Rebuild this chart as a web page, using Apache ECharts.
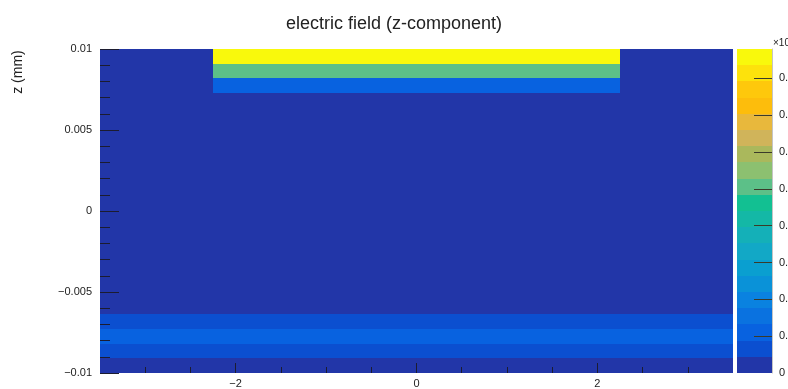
<!DOCTYPE html>
<html>
<head>
<meta charset="utf-8">
<script src="https://cdn.jsdelivr.net/npm/echarts@6/dist/echarts.min.js"></script>
<style>
  html, body { margin: 0; padding: 0; background: #ffffff; }
  #chart { width: 788px; height: 389px; }
</style>
</head>
<body>
<div id="chart"></div>
<script>
// Column boundaries along x (mm): outer bulk | electrode strip | outer bulk
const xEdges = [-3.5, -2.25, 2.25, 3.5];
// z extent (mm) and number of z bins
const zRange = [-0.01, 0.01];
const zBinCount = 22;
// Field z-component per z bin, listed from bottom bin to top bin
const fieldOuter = [0.01, 0.06, 0.11, 0.06, 0.01, 0.01, 0.01, 0.01, 0.01, 0.01, 0.01,
                    0.01, 0.01, 0.01, 0.01, 0.01, 0.01, 0.01, 0.01, 0.01, 0.01, 0.01];
const fieldInner = [0.01, 0.06, 0.11, 0.06, 0.01, 0.01, 0.01, 0.01, 0.01, 0.01, 0.01,
                    0.01, 0.01, 0.01, 0.01, 0.01, 0.01, 0.01, 0.01, 0.12, 0.50, 0.87];
// Colour scale: range, contour colours (low to high) and labelled values
const scaleMax = 0.88;
const levelColors = ['#2236a8', '#0b4fd0', '#0862e0', '#0a72e0', '#0a82e0', '#0a92d8', '#0a9fd0',
                     '#12a8c6', '#14b0b8', '#14b8a6', '#12c092', '#5cc088', '#8cc070', '#aab85c',
                     '#d0b45a', '#e8b83c', '#fdbd0c', '#fec80c', '#fde20c', '#f9f90c'];
const scaleTicks = [0, 0.1, 0.2, 0.3, 0.4, 0.5, 0.6, 0.7, 0.8];
// Axis ticks
const xMajorTicks = [-2, 0, 2];
const xMinorTicks = [-3, -2.5, -1.5, -1, -0.5, 0.5, 1, 1.5, 2.5, 3];

const FONT = '"Liberation Sans", Arial, Helvetica, sans-serif';
const TEXT = '#222222';
const TICK = '#1c1c30';

function levelOf(v) {
  const n = levelColors.length;
  return Math.max(0, Math.min(n - 1, Math.floor(v / scaleMax * n)));
}

// Field cells: [x0, x1, z0, z1, value]
const zStep = (zRange[1] - zRange[0]) / zBinCount;
const cells = [];
for (let r = 0; r < zBinCount; r++) {
  const z0 = zRange[0] + r * zStep, z1 = z0 + zStep;
  for (let c = 0; c < xEdges.length - 1; c++) {
    const v = c === 1 ? fieldInner[r] : fieldOuter[r];
    cells.push([xEdges[c], xEdges[c + 1], z0, z1, v]);
  }
}
// Colour bar bands: [0, 1, lo, hi, level]
const bandStep = scaleMax / levelColors.length;
const bands = levelColors.map((_, i) => [0, 1, i * bandStep, (i + 1) * bandStep, i]);

// Pixel-snapped cell rectangle so neighbouring cells share edges without seams
function rectItem(api, color) {
  const p0 = api.coord([api.value(0), api.value(3)]);
  const p1 = api.coord([api.value(1), api.value(2)]);
  const x0 = Math.round(p0[0]), y0 = Math.round(p0[1]);
  const x1 = Math.round(p1[0]), y1 = Math.round(p1[1]);
  return {
    type: 'rect',
    shape: { x: x0, y: y0, width: x1 - x0, height: y1 - y0 },
    style: { fill: color }
  };
}

function fmtMinus(v) {
  const s = String(+v.toFixed(4));
  return s.replace('-', '\u2212');
}

const chart = echarts.init(document.getElementById('chart'), null, { renderer: 'canvas' });

chart.setOption({
  animation: false,
  backgroundColor: '#ffffff',
  title: {
    text: 'electric field (z-component)',
    left: 'center',
    top: 10,
    textStyle: { fontFamily: FONT, fontSize: 18, fontWeight: 'normal', color: TEXT }
  },
  grid: [
    { left: 100, top: 49, width: 633, height: 324, outerBoundsMode: 'none', containLabel: false },
    { left: 737, top: 49, width: 35, height: 324, outerBoundsMode: 'none', containLabel: false }
  ],
  xAxis: [
    {
      gridIndex: 0, type: 'value', position: 'bottom', z: 10,
      min: xEdges[0], max: xEdges[xEdges.length - 1],
      axisLine: { show: false, onZero: false },
      axisTick: { show: true, inside: true, length: 10, customValues: xMajorTicks,
                  lineStyle: { color: TICK, width: 1 } },
      axisLabel: { show: true, customValues: xMajorTicks, margin: 5, formatter: fmtMinus,
                   fontFamily: FONT, fontSize: 11, color: TEXT },
      splitLine: { show: false }
    },
    {
      gridIndex: 0, type: 'value', position: 'bottom', z: 10,
      min: xEdges[0], max: xEdges[xEdges.length - 1],
      axisLine: { show: false, onZero: false },
      axisTick: { show: true, inside: true, length: 6, customValues: xMinorTicks,
                  lineStyle: { color: TICK, width: 1 } },
      axisLabel: { show: false },
      splitLine: { show: false }
    },
    {
      gridIndex: 1, type: 'value', min: 0, max: 1, show: false,
      axisLine: { onZero: false }
    }
  ],
  yAxis: [
    {
      gridIndex: 0, type: 'value', position: 'left', z: 10,
      min: zRange[0], max: zRange[1], interval: 0.005,
      axisLine: { show: false, onZero: false },
      axisTick: { show: true, inside: true, length: 19, lineStyle: { color: TICK, width: 1 } },
      minorTick: { show: true, splitNumber: 5, length: 10, lineStyle: { color: TICK, width: 1 } },
      axisLabel: { margin: 8, formatter: fmtMinus, fontFamily: FONT, fontSize: 11, color: TEXT },
      splitLine: { show: false }, minorSplitLine: { show: false }
    },
    {
      gridIndex: 1, type: 'value', position: 'right', z: 10,
      min: 0, max: scaleMax,
      axisLine: { show: true, onZero: false, lineStyle: { color: '#c4c4c4', width: 1 } },
      axisTick: { show: true, inside: true, length: 18, customValues: scaleTicks.slice(1),
                  lineStyle: { color: '#3a3a2a', width: 1 } },
      axisLabel: { show: true, customValues: scaleTicks, margin: 7,
                   formatter: v => String(+v.toFixed(2)),
                   fontFamily: FONT, fontSize: 11, color: TEXT },
      splitLine: { show: false }
    }
  ],
  series: [
    {
      type: 'custom',
      xAxisIndex: 0, yAxisIndex: 0,
      clip: true,
      data: cells,
      renderItem: (params, api) => rectItem(api, levelColors[levelOf(api.value(4))])
    },
    {
      type: 'custom',
      xAxisIndex: 2, yAxisIndex: 1,
      clip: true,
      data: bands,
      renderItem: (params, api) => rectItem(api, levelColors[api.value(4)])
    }
  ],
  graphic: [
    {
      type: 'text', x: 18, y: 72, rotation: Math.PI / 2,
      style: { text: 'z (mm)', fontFamily: FONT, fontSize: 14, fill: TEXT,
               align: 'center', verticalAlign: 'middle' }
    },
    {
      type: 'text', x: 773, y: 38,
      style: { text: '\u00d710', fontFamily: FONT, fontSize: 10, fill: TEXT,
               align: 'left', verticalAlign: 'top' }
    }
  ]
});
</script>
</body>
</html>
